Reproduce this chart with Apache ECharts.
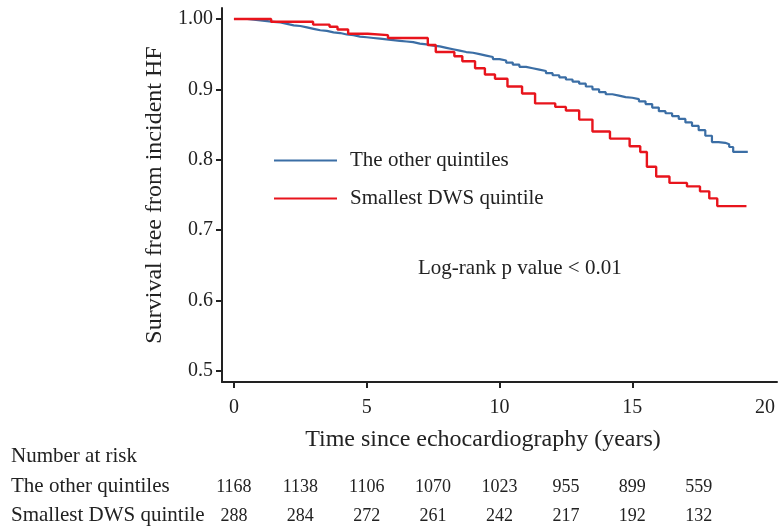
<!DOCTYPE html>
<html>
<head>
<meta charset="utf-8">
<script src="https://cdn.jsdelivr.net/npm/echarts@6/dist/echarts.min.js"></script>
<style>
  body { margin: 0; background: #fff; }
  #chart { width: 783px; height: 531px; }
</style>
</head>
<body>
<div id="chart"></div>
<script>
// KM curve points [time in years, survival]; drops happen at the given time
const otherQuintiles = [
  [0, 1.000], [0.25, 1.000], [0.5, 0.999], [0.75, 0.998], [1.0, 0.997], [1.25, 0.996],
  [1.5, 0.995], [1.75, 0.993], [2.0, 0.991], [2.25, 0.990], [2.5, 0.988], [2.75, 0.986],
  [3.0, 0.984], [3.25, 0.983], [3.5, 0.981], [3.75, 0.980], [4.0, 0.978], [4.25, 0.977],
  [4.5, 0.975], [4.75, 0.974], [5.0, 0.973], [5.25, 0.972], [5.5, 0.971], [5.75, 0.970],
  [6.0, 0.969], [6.25, 0.968], [6.5, 0.967], [6.75, 0.965], [7.0, 0.964], [7.25, 0.962],
  [7.5, 0.961], [7.75, 0.959], [8.0, 0.957], [8.25, 0.955], [8.5, 0.953], [8.75, 0.952],
  [9.0, 0.950], [9.25, 0.948], [9.5, 0.946], [9.75, 0.943], [10.0, 0.941], [10.25, 0.938],
  [10.5, 0.935], [10.75, 0.932], [11.0, 0.930], [11.25, 0.928], [11.5, 0.926], [11.75, 0.923],
  [12.0, 0.920], [12.25, 0.917], [12.5, 0.914], [12.75, 0.911], [13.0, 0.908], [13.25, 0.904],
  [13.5, 0.900], [13.75, 0.896], [14.0, 0.893], [14.25, 0.891], [14.5, 0.889], [14.75, 0.888],
  [15.0, 0.886], [15.25, 0.883], [15.5, 0.879], [15.75, 0.874], [16.0, 0.869], [16.25, 0.866],
  [16.5, 0.862], [16.75, 0.858], [17.0, 0.853], [17.25, 0.848], [17.5, 0.842], [17.75, 0.834],
  [18.0, 0.825], [18.25, 0.824], [18.5, 0.822], [18.65, 0.818], [18.8, 0.811], [19.35, 0.811]
];
const smallestDws = [
  [0, 1.0], [1.4, 0.996], [2.98, 0.992], [3.6, 0.989], [3.9, 0.985], [4.3, 0.979],
  [5.04, 0.977], [5.8, 0.973], [7.3, 0.963], [7.6, 0.953], [8.3, 0.947], [8.6, 0.940],
  [9.08, 0.930], [9.45, 0.921], [9.83, 0.915], [10.3, 0.904], [10.85, 0.894], [11.34, 0.880],
  [12.1, 0.875], [12.5, 0.870], [13.0, 0.857], [13.5, 0.840], [14.16, 0.830], [14.9, 0.819],
  [15.3, 0.811], [15.55, 0.790], [15.9, 0.776], [16.4, 0.767], [17.06, 0.762], [17.55, 0.755],
  [17.9, 0.745], [18.2, 0.734], [19.3, 0.734]
];

// number at risk table
const riskTimes = [0, 2.5, 5, 7.5, 10, 12.5, 15, 17.5];
const riskOther = [1168, 1138, 1106, 1070, 1023, 955, 899, 559];
const riskSmallest = [288, 284, 272, 261, 242, 217, 192, 132];

const xTicks = [0, 5, 10, 15, 20];
const yTicks = [0.5, 0.6, 0.7, 0.8, 0.9, 1.0];

const FONT = '"Liberation Serif", "Times New Roman", serif';
const INK = '#222';

const chart = echarts.init(document.getElementById('chart'));

chart.setOption({
  animation: false,
  textStyle: { fontFamily: FONT, color: INK },
  grid: { left: 222, right: 6, top: 8, bottom: 149 },
  legend: {
    left: 269, top: 145, orient: 'vertical', itemGap: 17,
    icon: 'rect', itemWidth: 63, itemHeight: 2,
    textStyle: { fontFamily: FONT, fontSize: 21, color: INK, padding: [0, 0, 0, 8] },
    data: ['The other quintiles', 'Smallest DWS quintile']
  },
  xAxis: {
    type: 'value', min: -0.45, max: 20.45,
    name: 'Time since echocardiography (years)', nameLocation: 'middle', nameGap: 46,
    nameTextStyle: { fontFamily: FONT, fontSize: 24, color: INK, padding: [0, 33, 0, 0] },
    axisLine: { show: true, onZero: false, lineStyle: { color: INK, width: 2 } },
    axisTick: { show: true, customValues: [0, 5, 10, 15], length: 6, lineStyle: { color: INK, width: 2 } },
    axisLabel: { customValues: xTicks, fontSize: 20, color: INK, margin: 16, fontFamily: FONT },
    splitLine: { show: false }
  },
  yAxis: {
    type: 'value', min: 0.484, max: 1.0156,
    name: 'Survival free from incident HF', nameLocation: 'middle', nameGap: 34,
    nameTextStyle: { fontFamily: FONT, fontSize: 24, color: INK },
    axisLine: { show: true, onZero: false, lineStyle: { color: INK, width: 2 } },
    axisTick: { show: true, customValues: yTicks, length: 6, lineStyle: { color: INK, width: 2 } },
    axisLabel: {
      customValues: yTicks, fontSize: 20, color: INK, margin: 9, fontFamily: FONT,
      formatter: v => (v === 1 ? '1.00' : v.toFixed(1))
    },
    splitLine: { show: false }
  },
  series: [
    {
      name: 'The other quintiles', type: 'line', step: 'end', symbol: 'none',
      data: otherQuintiles, color: '#3b6ea5', lineStyle: { width: 2.2 }
    },
    {
      name: 'Smallest DWS quintile', type: 'line', step: 'end', symbol: 'none',
      data: smallestDws, color: '#e8141c', lineStyle: { width: 2.4 }
    }
  ]
});

// log-rank note and the number-at-risk table, placed through the x scale
const txt = (x, y, s, size, align) => ({
  type: 'text', x: x, y: y,
  style: { text: s, fill: INK, font: size + 'px ' + FONT, textAlign: align || 'left', textVerticalAlign: 'middle' }
});
const graphics = [
  txt(418, 268, 'Log-rank p value < 0.01', 21),
  txt(11, 456, 'Number at risk', 21),
  txt(11, 486, 'The other quintiles', 21),
  txt(11, 515, 'Smallest DWS quintile', 21)
];
riskTimes.forEach((t, i) => {
  const px = chart.convertToPixel({ xAxisIndex: 0 }, t);
  graphics.push(txt(px, 487, String(riskOther[i]), 18, 'center'));
  graphics.push(txt(px, 516, String(riskSmallest[i]), 18, 'center'));
});
chart.setOption({ graphic: graphics });
</script>
</body>
</html>
